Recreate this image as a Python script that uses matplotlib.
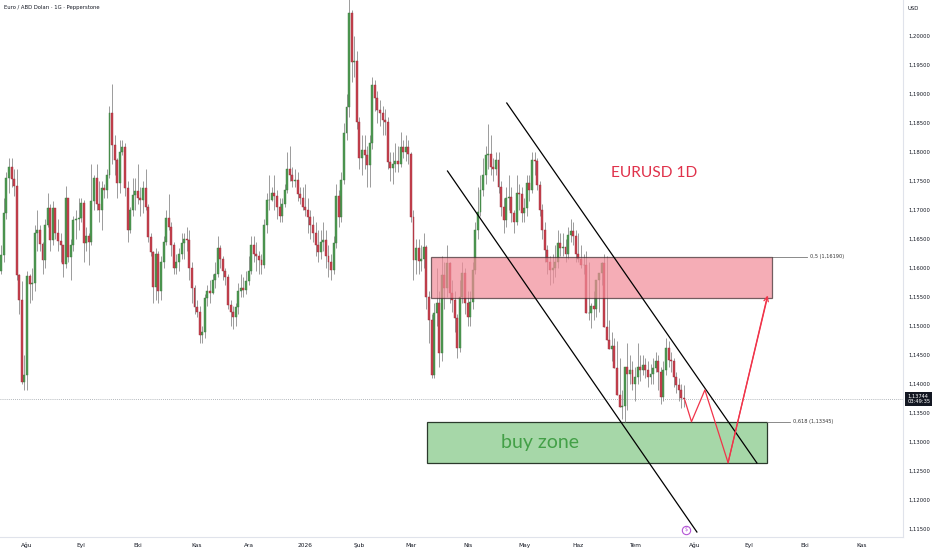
import numpy as np
import pandas as pd
import matplotlib
matplotlib.use("Agg")
import matplotlib.pyplot as plt
from matplotlib.patches import Rectangle

# daily EURUSD candles, Jul 18 2025 -> end of Jul 2026 (open = previous close)
first_open = 1.1595
closes = [
    # jul 25
    1.1622, 1.1695, 1.1755, 1.1774, 1.1753, 1.1742, 1.1588, 1.1545, 1.1403, 1.1415,
    # aug 25
    1.1587, 1.1572, 1.1575, 1.1660, 1.1665, 1.1641, 1.1614, 1.1674, 1.1703, 1.1648, 1.1703,
    1.1660, 1.1647, 1.1640, 1.1607, 1.1720, 1.1619, 1.1640, 1.1682, 1.1685, 1.1687,
    # sep 25
    1.1712, 1.1643, 1.1655, 1.1645, 1.1715, 1.1755, 1.1710, 1.1700, 1.1738, 1.1735, 1.1760,
    1.1867, 1.1812, 1.1786, 1.1747, 1.1800, 1.1808, 1.1738, 1.1665, 1.1700, 1.1726, 1.1733,
    # oct 25
    1.1720, 1.1718, 1.1738, 1.1705, 1.1654, 1.1628, 1.1568, 1.1625, 1.1560, 1.1610, 1.1645,
    1.1686, 1.1670, 1.1640, 1.1600, 1.1610, 1.1625, 1.1643, 1.1650, 1.1648, 1.1600, 1.1566, 1.1533,
    # nov 25
    1.1525, 1.1485, 1.1490, 1.1548, 1.1560, 1.1557, 1.1580, 1.1590, 1.1635, 1.1615,
    1.1595, 1.1585, 1.1537, 1.1525, 1.1515, 1.1533, 1.1560, 1.1565, 1.1562, 1.1578,
    # dec 25
    1.1595, 1.1640, 1.1625, 1.1620, 1.1613, 1.1605, 1.1675, 1.1717, 1.1717, 1.1730, 1.1725,
    1.1705, 1.1690, 1.1710, 1.1735, 1.1770, 1.1761, 1.1750, 1.1752, 1.1727, 1.1720, 1.1705,
    # jan 26
    1.1700, 1.1688, 1.1675, 1.1660, 1.1640, 1.1628, 1.1645, 1.1648, 1.1620, 1.1610, 1.1597,
    1.1643, 1.1725, 1.1688, 1.1752, 1.1833, 1.1878, 1.2040, 1.1955, 1.1957, 1.1852,
    # feb 26
    1.1790, 1.1803, 1.1795, 1.1778, 1.1815, 1.1915, 1.1893, 1.1872, 1.1868, 1.1855,
    1.1852, 1.1783, 1.1772, 1.1780, 1.1785, 1.1780, 1.1808, 1.1800, 1.1808, 1.1797,
    # mar 26
    1.1688, 1.1614, 1.1634, 1.1612, 1.1616, 1.1636, 1.1550, 1.1510, 1.1416, 1.1522, 1.1540,
    1.1453, 1.1588, 1.1565, 1.1608, 1.1557, 1.1545, 1.1514, 1.1462, 1.1550, 1.1591, 1.1540,
    # apr 26
    1.1516, 1.1541, 1.1597, 1.1666, 1.1697, 1.1735, 1.1760, 1.1795, 1.1797, 1.1775, 1.1770,
    1.1786, 1.1740, 1.1705, 1.1683, 1.1720, 1.1722, 1.1695, 1.1680, 1.1730, 1.1728, 1.1695,
    # may 26
    1.1703, 1.1747, 1.1735, 1.1786, 1.1785, 1.1743, 1.1700, 1.1665, 1.1631, 1.1610, 1.1596,
    1.1600, 1.1610, 1.1643, 1.1635, 1.1636, 1.1625, 1.1657, 1.1663, 1.1655, 1.1625,
    # jun 26
    1.1615, 1.1605, 1.1605, 1.1522, 1.1522, 1.1535, 1.1530, 1.1580, 1.1591, 1.1608, 1.1498,
    1.1476, 1.1460, 1.1465, 1.1428, 1.1381, 1.1360, 1.1362, 1.1430, 1.1418, 1.1425, 1.1400,
    # jul 26
    1.1412, 1.1430, 1.1425, 1.1432, 1.1424, 1.1412, 1.1418, 1.1427, 1.1440, 1.1420,
    1.1378, 1.1424, 1.1462, 1.1441, 1.1440, 1.1412, 1.1398, 1.1390, 1.1376, 1.1374,
]
highs = [
    1.1640, 1.1720, 1.1765, 1.1790, 1.1789, 1.1770, 1.1770, 1.1590, 1.1578, 1.1450,
    1.1595, 1.1590, 1.1600, 1.1675, 1.1700, 1.1675, 1.1645, 1.1685, 1.1730, 1.1710, 1.1715,
    1.1690, 1.1685, 1.1660, 1.1625, 1.1742, 1.1720, 1.1650, 1.1690, 1.1700, 1.1720,
    1.1720, 1.1718, 1.1670, 1.1660, 1.1780, 1.1760, 1.1780, 1.1750, 1.1750, 1.1745, 1.1770,
    1.1880, 1.1918, 1.1830, 1.1790, 1.1820, 1.1820, 1.1815, 1.1750, 1.1705, 1.1755, 1.1755,
    1.1780, 1.1740, 1.1750, 1.1770, 1.1710, 1.1660, 1.1630, 1.1635, 1.1630, 1.1620, 1.1655,
    1.1700, 1.1728, 1.1680, 1.1645, 1.1625, 1.1635, 1.1660, 1.1660, 1.1670, 1.1665, 1.1610, 1.1570,
    1.1545, 1.1535, 1.1500, 1.1555, 1.1570, 1.1580, 1.1590, 1.1610, 1.1655, 1.1640,
    1.1620, 1.1600, 1.1590, 1.1545, 1.1535, 1.1540, 1.1575, 1.1590, 1.1585, 1.1595,
    1.1620, 1.1655, 1.1655, 1.1645, 1.1630, 1.1625, 1.1685, 1.1730, 1.1760, 1.1740, 1.1760,
    1.1735, 1.1720, 1.1720, 1.1745, 1.1800, 1.1810, 1.1775, 1.1770, 1.1765, 1.1740, 1.1740,
    1.1745, 1.1720, 1.1700, 1.1690, 1.1680, 1.1665, 1.1665, 1.1680, 1.1665, 1.1640, 1.1625,
    1.1655, 1.1745, 1.1735, 1.1765, 1.1850, 1.1900, 1.2070, 1.2045, 1.2000, 1.1975,
    1.1860, 1.1830, 1.1830, 1.1810, 1.1830, 1.1930, 1.1925, 1.1905, 1.1890, 1.1880,
    1.1875, 1.1860, 1.1800, 1.1800, 1.1815, 1.1810, 1.1835, 1.1820, 1.1830, 1.1820,
    1.1800, 1.1700, 1.1650, 1.1650, 1.1640, 1.1660, 1.1640, 1.1560, 1.1520, 1.1540, 1.1600,
    1.1560, 1.1620, 1.1610, 1.1640, 1.1610, 1.1580, 1.1560, 1.1520, 1.1580, 1.1610, 1.1600,
    1.1560, 1.1560, 1.1610, 1.1680, 1.1740, 1.1760, 1.1790, 1.1810, 1.1848, 1.1830, 1.1790,
    1.1800, 1.1800, 1.1750, 1.1720, 1.1740, 1.1760, 1.1740, 1.1700, 1.1760, 1.1745, 1.1740,
    1.1720, 1.1760, 1.1760, 1.1800, 1.1800, 1.1790, 1.1750, 1.1710, 1.1680, 1.1640, 1.1620,
    1.1625, 1.1640, 1.1665, 1.1660, 1.1660, 1.1650, 1.1670, 1.1685, 1.1680, 1.1665,
    1.1660, 1.1640, 1.1625, 1.1630, 1.1610, 1.1540, 1.1560, 1.1560, 1.1590, 1.1610, 1.1625,
    1.1620, 1.1510, 1.1490, 1.1480, 1.1475, 1.1445, 1.1390, 1.1380, 1.1470, 1.1450, 1.1440,
    1.1430, 1.1470, 1.1450, 1.1450, 1.1445, 1.1440, 1.1435, 1.1445, 1.1455, 1.1450,
    1.1430, 1.1440, 1.1480, 1.1475, 1.1455, 1.1445, 1.1420, 1.1410, 1.1400, 1.1398,
]
lows = [
    1.1590, 1.1610, 1.1685, 1.1730, 1.1740, 1.1725, 1.1580, 1.1520, 1.1400, 1.1390,
    1.1390, 1.1540, 1.1545, 1.1560, 1.1630, 1.1630, 1.1590, 1.1600, 1.1670, 1.1630, 1.1640,
    1.1650, 1.1630, 1.1610, 1.1585, 1.1600, 1.1610, 1.1580, 1.1630, 1.1650, 1.1665,
    1.1680, 1.1610, 1.1630, 1.1605, 1.1640, 1.1700, 1.1700, 1.1680, 1.1665, 1.1720, 1.1720,
    1.1755, 1.1780, 1.1760, 1.1720, 1.1730, 1.1795, 1.1725, 1.1645, 1.1660, 1.1690, 1.1700,
    1.1710, 1.1690, 1.1695, 1.1700, 1.1645, 1.1620, 1.1540, 1.1545, 1.1540, 1.1545, 1.1600,
    1.1640, 1.1665, 1.1620, 1.1590, 1.1590, 1.1595, 1.1615, 1.1615, 1.1630, 1.1580, 1.1540, 1.1520,
    1.1515, 1.1470, 1.1470, 1.1480, 1.1535, 1.1540, 1.1555, 1.1565, 1.1585, 1.1600,
    1.1580, 1.1570, 1.1530, 1.1500, 1.1495, 1.1500, 1.1520, 1.1550, 1.1550, 1.1555,
    1.1570, 1.1590, 1.1610, 1.1595, 1.1590, 1.1590, 1.1600, 1.1660, 1.1700, 1.1715, 1.1700,
    1.1685, 1.1680, 1.1680, 1.1705, 1.1730, 1.1750, 1.1740, 1.1740, 1.1715, 1.1710, 1.1700,
    1.1690, 1.1660, 1.1650, 1.1645, 1.1620, 1.1610, 1.1615, 1.1630, 1.1600, 1.1585, 1.1580,
    1.1590, 1.1635, 1.1670, 1.1680, 1.1745, 1.1820, 1.1860, 1.1920, 1.1930, 1.1840,
    1.1770, 1.1760, 1.1770, 1.1740, 1.1740, 1.1805, 1.1870, 1.1850, 1.1845, 1.1830,
    1.1830, 1.1770, 1.1750, 1.1745, 1.1765, 1.1765, 1.1775, 1.1790, 1.1785, 1.1780,
    1.1680, 1.1580, 1.1590, 1.1590, 1.1595, 1.1600, 1.1530, 1.1470, 1.1410, 1.1410, 1.1500,
    1.1430, 1.1440, 1.1530, 1.1550, 1.1540, 1.1525, 1.1490, 1.1445, 1.1455, 1.1540, 1.1520,
    1.1500, 1.1500, 1.1530, 1.1590, 1.1650, 1.1690, 1.1725, 1.1745, 1.1770, 1.1760, 1.1750,
    1.1760, 1.1730, 1.1690, 1.1660, 1.1670, 1.1700, 1.1680, 1.1660, 1.1675, 1.1700, 1.1680,
    1.1680, 1.1690, 1.1715, 1.1730, 1.1760, 1.1735, 1.1690, 1.1650, 1.1610, 1.1590, 1.1570,
    1.1575, 1.1585, 1.1600, 1.1620, 1.1620, 1.1610, 1.1615, 1.1645, 1.1640, 1.1610,
    1.1610, 1.1600, 1.1590, 1.1590, 1.1510, 1.1497, 1.1510, 1.1515, 1.1525, 1.1570, 1.1590,
    1.1490, 1.1460, 1.1440, 1.1440, 1.1415, 1.1375, 1.1340, 1.1335, 1.1355, 1.1400, 1.1390,
    1.1370, 1.1400, 1.1405, 1.1415, 1.1410, 1.1395, 1.1400, 1.1400, 1.1420, 1.1390,
    1.1365, 1.1370, 1.1415, 1.1430, 1.1420, 1.1395, 1.1385, 1.1370, 1.1358, 1.1360,
]
start_day = "2025-07-18"
holidays = ["2025-12-25", "2026-01-01"]
month_names = {1: "2026", 2: "Şub", 3: "Mar", 4: "Nis", 5: "May", 6: "Haz",
               7: "Tem", 8: "Ağu", 9: "Eyl", 10: "Eki", 11: "Kas", 12: "Ara"}
last_price = 1.13744
fib_05 = 1.16190
fib_618 = 1.13345

# drawings (bar index, price)
sell_zone = (166.7, 299.1, 1.15480, fib_05)
buy_zone = (165.2, 297.1, 1.12638, fib_618)
upper_channel = [(196.2, 1.18845), (293.3, 1.12638)]
lower_channel = [(173.2, 1.17672), (270.0, 1.11448)]
path_x = [265.3, 267.9, 273.1, 282.1, 297.4]
path_y = [1.13724, 1.13350, 1.13897, 1.12643, 1.15495]

GREEN = "#4f9a53"
RED = "#c7414f"
WICK = "#8c8c8c"

closes = np.array(closes)
highs = np.array(highs)
lows = np.array(lows)
opens = np.r_[first_open, closes[:-1]]
highs = np.maximum(highs, np.maximum(opens, closes))
lows = np.minimum(lows, np.minimum(opens, closes))
x = np.arange(len(closes))

fig = plt.figure(figsize=(9.32, 5.5), dpi=100)
fig.patch.set_facecolor("white")
ax = fig.add_axes([0, 13 / 550, 903 / 932, 537 / 550])
ax.set_xlim(-0.5, 350.0)
ax.set_ylim(1.11362, 1.20621)

# candles
ax.vlines(x, lows, highs, color=WICK, lw=0.6, zorder=2)
up = closes >= opens
body = np.abs(closes - opens)
body = np.where(body < 0.00008, 0.00008, body)
bot = np.minimum(opens, closes)
ax.bar(x[up], body[up], bottom=bot[up], width=0.76, color=GREEN,
       edgecolor="#3b7a3e", linewidth=0.3, zorder=3)
ax.bar(x[~up], body[~up], bottom=bot[~up], width=0.76, color=RED,
       edgecolor="#9c2f3b", linewidth=0.3, zorder=3)

# zones
x0, x1, y0, y1 = sell_zone
ax.add_patch(Rectangle((x0, y0), x1 - x0, y1 - y0, facecolor="#f28b98",
                       edgecolor="#3a2a2c", lw=0.9, alpha=0.7, zorder=4))
x0, x1, y0, y1 = buy_zone
ax.add_patch(Rectangle((x0, y0), x1 - x0, y1 - y0, facecolor="#a6d7a8",
                       edgecolor="#2b3a2c", lw=0.9, zorder=1))

# fib levels
ax.plot([sell_zone[1], 312.7], [fib_05, fib_05], color="#777777", lw=0.6)
ax.text(313.8, fib_05, "0,5 (1,16190)", fontsize=3.6, color="#333333", va="center")
ax.plot([buy_zone[1], 306.1], [fib_618, fib_618], color="#777777", lw=0.6)
ax.text(307.2, fib_618, "0,618 (1,13345)", fontsize=3.6, color="#333333", va="center")

# channel
for ln in (upper_channel, lower_channel):
    ax.plot([ln[0][0], ln[1][0]], [ln[0][1], ln[1][1]], color="black", lw=0.9, zorder=5)

# projected path
ax.plot(path_x, path_y, color="#f0344a", lw=0.9, zorder=5)
ax.annotate("", xy=(path_x[-1], path_y[-1] + 0.0003), xytext=(path_x[-2], path_y[-2]),
            arrowprops=dict(arrowstyle="->", color="#f0344a", lw=0.9,
                            mutation_scale=8, shrinkA=0, shrinkB=0), zorder=5)

# last price line
ax.axhline(last_price, color="#9aa0a6", lw=0.6, ls=(0, (1, 1.5)), zorder=1)

# texts
ax.text(253.3, 1.17638, "EURUSD 1D", fontsize=11.2, color="#e0324b",
        ha="center", va="center", family="Lato")
ax.text(209.0, 1.12983, "buy zone", fontsize=14, color="#43a047",
        ha="center", va="center", family="Lato")
ax.plot(265.7, 1.11483, marker="o", ms=6, mfc="white", mec="#b455d6", mew=0.8, zorder=6)
ax.text(265.7, 1.11483, "$", fontsize=3.5, color="#b455d6", ha="center", va="center", zorder=7)

# axes look
for s in ("top", "left"):
    ax.spines[s].set_visible(False)
ax.spines["right"].set_color("#e0e3eb")
ax.spines["bottom"].set_color("#e0e3eb")
ax.spines["right"].set_linewidth(0.8)
ax.spines["bottom"].set_linewidth(0.8)

yt = np.arange(1.115, 1.2001, 0.005)
ax.yaxis.tick_right()
ax.set_yticks(yt)
ax.set_yticklabels([f"{v:.5f}".replace(".", ",") for v in yt])
ax.tick_params(axis="y", length=0, pad=4, labelsize=3.8, labelcolor="#131722")

cal = pd.bdate_range(start_day, "2026-12-31")
cal = cal[~cal.isin(pd.to_datetime(holidays))]
per = cal.to_period("M")
first = np.r_[True, per[1:] != per[:-1]]
idx = np.nonzero(first)[0][1:]
idx = idx[idx < 350]
ax.set_xticks(idx)
ax.set_xticklabels([month_names[cal[i].month] for i in idx])
ax.tick_params(axis="x", length=0, pad=4, labelsize=4.2, labelcolor="#131722")

# header / price tag
fig.text(4 / 932, 1 - 7 / 550, "Euro / ABD Doları · 1G · Pepperstone", fontsize=3.8,
         color="#131722", va="center")
fig.text(908 / 932, 1 - 8 / 550, "USD", fontsize=3.8, color="#131722", va="center")
ax.annotate("1,13744\n03:49:35", xy=(1.0, last_price), xycoords=("axes fraction", "data"),
            xytext=(3, 0), textcoords="offset points", fontsize=3.7, color="white",
            va="center", ha="left", linespacing=1.1, annotation_clip=False,
            bbox=dict(boxstyle="square,pad=0.35", fc="#131722", ec="none"))

fig.savefig("out.png", dpi=100)
